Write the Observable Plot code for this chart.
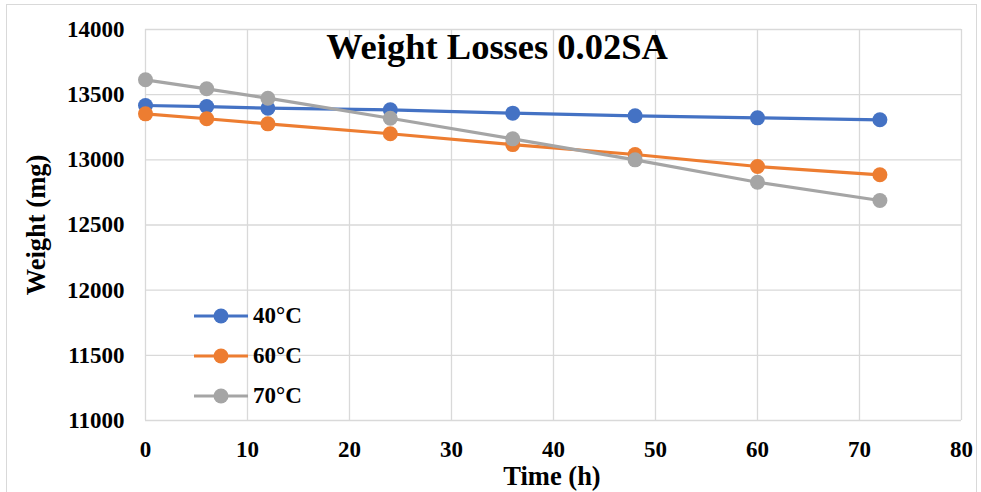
<!DOCTYPE html>
<html>
<head>
<meta charset="utf-8">
<script src="https://cdn.jsdelivr.net/npm/d3@7"></script>
<script src="https://cdn.jsdelivr.net/npm/@observablehq/plot@0.6"></script>
<style>
  html, body { margin: 0; padding: 0; background: #fff; }
  #wrap { position: relative; width: 981px; height: 492px; overflow: hidden; font-family: "Liberation Serif", "Times New Roman", serif; }
  #frame { position: absolute; left: 6px; top: 4px; width: 971px; height: 500px; border: 1px solid #d9d9d9; box-sizing: border-box; }
  #chart { position: absolute; left: 0; top: 0; }
  .ov { position: absolute; font-weight: bold; color: #000; white-space: nowrap; }
  #title { left: 497px; top: 25px; transform: translateX(-50%); font-size: 36.5px; }
  #ytitle { left: 36px; top: 225px; transform: translate(-50%, -50%) rotate(-90deg); font-size: 26.5px; }
  #xtitle { left: 552px; top: 461px; transform: translateX(-50%); font-size: 26.5px; }
  #legend { position: absolute; left: 194px; top: 296px; }
  .li { display: flex; align-items: center; height: 40px; font-weight: bold; font-size: 23px; }
  .li svg { margin-right: 3px; }
</style>
</head>
<body>
<div id="wrap">
  <div id="frame"></div>
  <div id="chart"></div>
  <div class="ov" id="title">Weight Losses 0.02SA</div>
  <div class="ov" id="ytitle">Weight (mg)</div>
  <div class="ov" id="xtitle">Time (h)</div>
  <div id="legend"></div>
</div>
<script>
const times = [0, 6, 12, 24, 36, 48, 60, 72];
const series = ["40°C", "60°C", "70°C"];
const colors = ["#4472C4", "#ED7D31", "#A5A5A5"];
const w40 = [13417, 13409, 13396, 13384, 13358, 13338, 13322, 13307];
const w60 = [13353, 13315, 13276, 13200, 13117, 13041, 12949, 12885];
const w70 = [13614, 13545, 13473, 13319, 13161, 13000, 12828, 12688];
const xTicks = [0, 10, 20, 30, 40, 50, 60, 70, 80];
const yTicks = [11000, 11500, 12000, 12500, 13000, 13500, 14000];

const values = [w40, w60, w70];
const data = [];
series.forEach((s, i) => times.forEach((t, j) => data.push({series: s, time: t, weight: values[i][j]})));

const chart = Plot.plot({
  width: 981,
  height: 492,
  marginLeft: 145,
  marginRight: 20,
  marginTop: 29,
  marginBottom: 72,
  style: { fontFamily: "'Liberation Serif', 'Times New Roman', serif", fontWeight: "bold", fontSize: "23px", color: "#000", background: "transparent" },
  x: { domain: [0, 80], ticks: xTicks, label: null, tickSize: 0, tickPadding: 20 },
  y: { domain: [11000, 14000], ticks: yTicks, label: null, tickSize: 0, tickPadding: 21, tickFormat: d => String(d) },
  color: { domain: series, range: colors },
  marks: [
    Plot.gridX(xTicks, { stroke: "#d9d9d9", strokeOpacity: 1, strokeWidth: 1.3 }),
    Plot.gridY(yTicks, { stroke: "#d9d9d9", strokeOpacity: 1, strokeWidth: 1.3 }),
    Plot.line(data, { x: "time", y: "weight", z: "series", stroke: "series", strokeWidth: 3.2 }),
    Plot.dot(data, { x: "time", y: "weight", fill: "series", r: 7.5 })
  ]
});
document.getElementById("chart").appendChild(chart);

const legend = document.getElementById("legend");
series.forEach((s, i) => {
  const row = document.createElement("div");
  row.className = "li";
  row.innerHTML = `<svg width="56" height="20"><line x1="0" x2="54" y1="10" y2="10" stroke="${colors[i]}" stroke-width="3.2"/><circle cx="27" cy="10" r="7.5" fill="${colors[i]}"/></svg><span>${s}</span>`;
  legend.appendChild(row);
});
</script>
</body>
</html>
